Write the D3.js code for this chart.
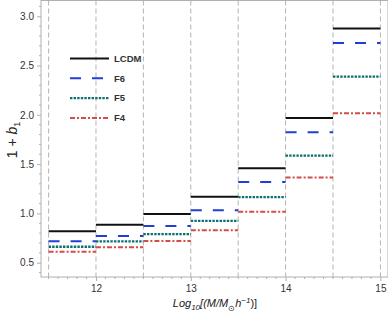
<!DOCTYPE html>
<html>
<head>
<meta charset="utf-8">
<script src="https://cdn.jsdelivr.net/npm/d3@7"></script>
<style>
  body { margin: 0; background: #fff; }
  svg { display: block; font-family: "Liberation Sans", Arial, sans-serif; }
</style>
</head>
<body>
<div id="chart"></div>
<script>
// mass bins (log10 M) and bias per model
const binEdges = [11.5, 12, 12.5, 13, 13.5, 14, 14.5, 15];
const lcdm = [0.82, 0.885, 0.995, 1.168, 1.458, 1.968, 2.875];
const f6 = [0.717, 0.77, 0.872, 1.033, 1.32, 1.823, 2.73];
const f5 = [0.662, 0.717, 0.79, 0.925, 1.165, 1.587, 2.387];
const f4 = [0.611, 0.656, 0.72, 0.828, 1.016, 1.364, 2.015];
const xTicks = [12, 13, 14, 15];
const yTicks = [0.5, 1.0, 1.5, 2.0, 2.5, 3.0];

const series = [
  { name: "LCDM", values: lcdm, color: "#111111", dash: null, w: 2 },
  { name: "F6", values: f6, color: "#1f3fd8", dash: "11,11", w: 2 },
  { name: "F5", values: f5, color: "#0d6f6f", dash: "2.4,1.2", w: 2.3 },
  { name: "F4", values: f4, color: "#d44c4a", dash: "5,2,2,2", w: 2 }
];

const W = 388, H = 316;
const margin = { left: 41, right: 388, top: 0.5, bottom: 277 };

const svg = d3.select("#chart").append("svg")
  .attr("width", W).attr("height", H);

const x = d3.scaleLinear().domain([11.42, 15.08]).range([margin.left, margin.right]);
const y = d3.scaleLinear().domain([0.355, 3.16]).range([margin.bottom, margin.top]);

// vertical dashed bin lines
svg.append("g").selectAll("line")
  .data(binEdges)
  .enter().append("line")
  .attr("x1", d => x(d)).attr("x2", d => x(d))
  .attr("y1", margin.top).attr("y2", margin.bottom)
  .attr("stroke", "#b4b4b4")
  .attr("stroke-width", 1)
  .attr("stroke-dasharray", "5,3");

// frame
svg.append("rect")
  .attr("x", margin.left).attr("y", margin.top)
  .attr("width", margin.right - margin.left).attr("height", margin.bottom - margin.top)
  .attr("fill", "none")
  .attr("stroke", "#b0b0b0")
  .attr("stroke-width", 1);

// y axis
const yAxis = svg.append("g").attr("transform", `translate(${margin.left},0)`);
yAxis.call(d3.axisLeft(y).tickValues(yTicks).tickFormat(d3.format(".1f")).tickSize(4).tickPadding(3))
  .call(g => g.select(".domain").remove());
yAxis.selectAll("line").attr("stroke", "#b0b0b0");
yAxis.selectAll("text").attr("font-size", 10).attr("fill", "#333");
const yMinor = d3.range(4, 32).map(d => d / 10).filter(d => !yTicks.some(t => Math.abs(t - d) < 1e-9));
yAxis.selectAll(".minor").data(yMinor).enter().append("line")
  .attr("class", "minor")
  .attr("x1", -2).attr("x2", 0)
  .attr("y1", d => y(d)).attr("y2", d => y(d))
  .attr("stroke", "#b0b0b0");

// x axis
const xAxis = svg.append("g").attr("transform", `translate(0,${margin.bottom})`);
xAxis.call(d3.axisBottom(x).tickValues(xTicks).tickFormat(d3.format("d")).tickSize(4).tickPadding(4))
  .call(g => g.select(".domain").remove());
xAxis.selectAll("line").attr("stroke", "#b0b0b0");
xAxis.selectAll("text").attr("font-size", 10).attr("fill", "#333");
const xMinor = d3.range(115, 151, 1).map(d => d / 10).filter(d => !xTicks.some(t => Math.abs(t - d) < 1e-9));
xAxis.selectAll(".minor").data(xMinor).enter().append("line")
  .attr("class", "minor")
  .attr("x1", d => x(d)).attr("x2", d => x(d))
  .attr("y1", 0).attr("y2", 2)
  .attr("stroke", "#b0b0b0");

// step segments
series.forEach(s => {
  svg.append("g").selectAll("line")
    .data(s.values)
    .enter().append("line")
    .attr("x1", (d, i) => x(binEdges[i]))
    .attr("x2", (d, i) => x(binEdges[i + 1]))
    .attr("y1", d => y(d)).attr("y2", d => y(d))
    .attr("stroke", s.color)
    .attr("stroke-width", s.w)
    .attr("stroke-dasharray", s.dash);
});

// legend
const legend = svg.append("g");
series.forEach((s, i) => {
  const ly = 58.5 + i * 19.8;
  legend.append("line")
    .attr("x1", 70).attr("x2", 109)
    .attr("y1", ly).attr("y2", ly)
    .attr("stroke", s.color)
    .attr("stroke-width", s.w)
    .attr("stroke-dasharray", s.dash);
  legend.append("text")
    .attr("x", 114).attr("y", ly)
    .attr("dy", "0.35em")
    .attr("font-size", 9.5)
    .attr("font-weight", "bold")
    .attr("fill", "#333")
    .text(s.name);
});

// axis titles
const yl = svg.append("text")
  .attr("transform", "translate(17,140) rotate(-90)")
  .attr("text-anchor", "middle")
  .attr("font-size", 14)
  .attr("fill", "#222");
yl.append("tspan").text("1 + ");
yl.append("tspan").attr("font-style", "italic").text("b");
yl.append("tspan").attr("font-size", 9).attr("dy", 3).text("1");

const xl = svg.append("text")
  .attr("x", 215).attr("y", 307)
  .attr("text-anchor", "middle")
  .attr("font-size", 11)
  .attr("font-style", "italic")
  .attr("fill", "#222");
xl.append("tspan").text("Log");
xl.append("tspan").attr("font-size", 8).attr("dy", 3).text("10");
xl.append("tspan").attr("dy", -3).text("[(M/M");
xl.append("tspan").attr("font-size", 8).attr("dy", 4).attr("font-style", "normal").text("⊙");
xl.append("tspan").attr("dy", -4).text("h");
xl.append("tspan").attr("font-size", 8).attr("dy", -4).text("−1");
xl.append("tspan").attr("dy", 4).attr("font-style", "normal").text(")]");
</script>
</body>
</html>
